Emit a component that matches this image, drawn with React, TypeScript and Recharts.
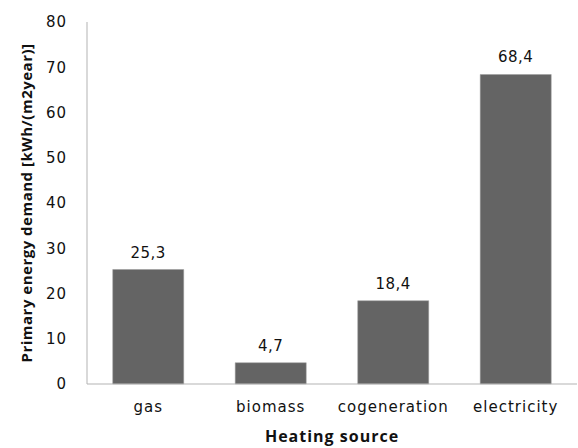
import React from "react";
import { BarChart, Bar, XAxis, YAxis, LabelList } from "recharts";

const categories = ["gas", "biomass", "cogeneration", "electricity"];
const demand = [25.3, 4.7, 18.4, 68.4];
const yTicks = [0, 10, 20, 30, 40, 50, 60, 70, 80];

const data = categories.map((c, i) => ({ name: c, value: demand[i] }));

const fmt = (v: any) => String(v).replace(".", ",");

export default function App() {
  return (
    <div style={{ position: "absolute", left: 0, top: 0, width: 578, height: 448, background: "#fff" }}>
      <BarChart
        width={578}
        height={448}
        data={data}
        margin={{ top: 22, right: 1, bottom: 0, left: 0 }}
        barCategoryGap="21%"
      >
        <XAxis
          dataKey="name"
          height={64}
          axisLine={{ stroke: "#b3b3b3", strokeWidth: 1 }}
          tickLine={false}
          tickSize={0}
          tickMargin={17}
          tick={{ fill: "#111", fontSize: 15, fontFamily: "DejaVu Sans", letterSpacing: 1 }}
          label={{
            value: "Heating source",
            position: "insideBottom",
            offset: 6,
            style: { fill: "#111", fontSize: 16, fontWeight: "bold", fontFamily: "Open Sans", letterSpacing: 1 },
          }}
        />
        <YAxis
          width={87}
          domain={[0, 80]}
          ticks={yTicks}
          interval={0}
          axisLine={{ stroke: "#b3b3b3", strokeWidth: 1 }}
          tickLine={false}
          tickSize={0}
          tickMargin={20}
          tick={{ fill: "#111", fontSize: 15, fontFamily: "DejaVu Sans", letterSpacing: 1 }}
          label={{
            value: "Primary energy demand [kWh/(m2year)]",
            angle: -90,
            position: "insideLeft",
            offset: 27,
            style: { textAnchor: "middle", fill: "#111", fontSize: 15, fontWeight: "bold", fontFamily: "Open Sans", letterSpacing: 0.5 },
          }}
        />
        <Bar dataKey="value" fill="#646464" stroke="#9a9a9a" strokeWidth={0.5} isAnimationActive={false}>
          <LabelList
            dataKey="value"
            position="top"
            offset={12}
            formatter={fmt}
            style={{ fill: "#111", fontSize: 15, fontFamily: "DejaVu Sans", letterSpacing: 0.5 }}
          />
        </Bar>
      </BarChart>
    </div>
  );
}
